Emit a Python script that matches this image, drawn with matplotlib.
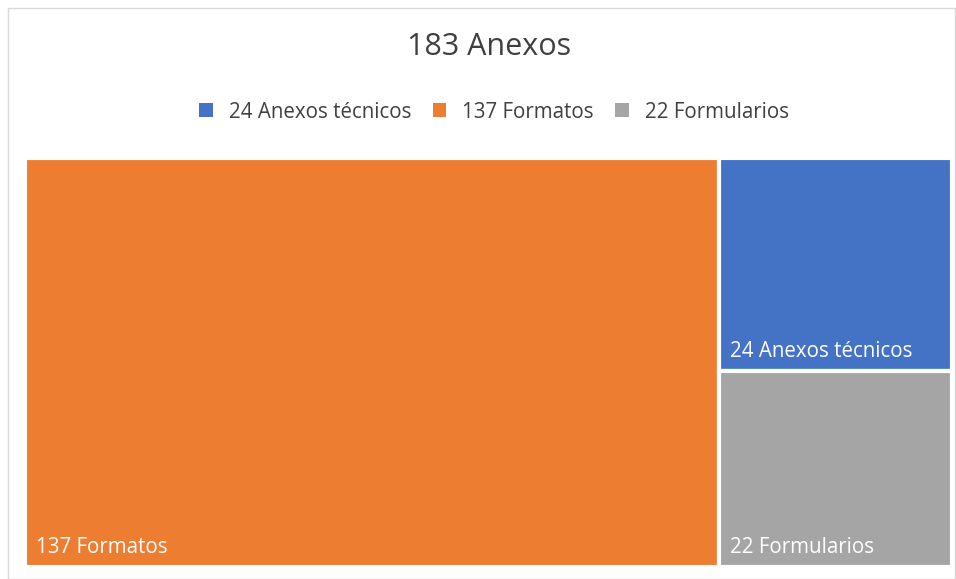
import matplotlib
matplotlib.use("Agg")
import matplotlib.pyplot as plt
from matplotlib.patches import Rectangle, Patch

title = "183 Anexos"
categories = ["Anexos técnicos", "Formatos", "Formularios"]
values = [24, 137, 22]
colors = ["#4472C4", "#ED7D31", "#A5A5A5"]

plt.rcParams['font.family'] = ['Open Sans', 'DejaVu Sans']

fig = plt.figure(figsize=(9.56, 5.79), dpi=100)
fig.patch.set_facecolor("white")
# outer chart frame
fig.patches.append(Rectangle((8/956, 0), 1 - 8/956 - 0.001, 1 - 8/579, transform=fig.transFigure,
                             fill=False, edgecolor="#D9D9D9", linewidth=1))

ax = fig.add_axes([25/956, 12/579, 927/956, 409/579])
total = sum(values)
ax.set_xlim(0, total)
ax.set_ylim(0, 1)
ax.axis("off")

labels = [f"{v} {c}" for v, c in zip(values, categories)]

# layout: largest category as full-height column on the left, others stacked on the right
order = sorted(range(len(values)), key=lambda i: -values[i])
big = order[0]
rest = [i for i in range(len(values)) if i != big]
rects = {}
rects[big] = (0, 0, values[big], 1)
rest_total = sum(values[i] for i in rest)
ytop = 1.0
for i in rest:
    h = values[i] / rest_total
    rects[i] = (values[big], ytop - h, rest_total, h)
    ytop -= h

for i, (x, y, w, h) in rects.items():
    ax.add_patch(Rectangle((x, y), w, h, facecolor=colors[i], edgecolor="white", linewidth=3))
    ax.text(x + total * 0.012, y + 0.022, labels[i], color="white", fontsize=14.8,
            ha="left", va="bottom")

fig.text(489/956, 1 - 47/579, title, ha="center", va="center", fontsize=22, color="#404040")

handles = [Patch(facecolor=c, edgecolor="none") for c in colors]
fig.legend(handles, labels, loc="center", bbox_to_anchor=(494/956, 1 - 112/579), ncol=3,
           frameon=False, fontsize=14.8, handlelength=0.67, handleheight=0.67,
           handletextpad=0.77, columnspacing=1.05, labelcolor="#404040")

fig.savefig("out.png", dpi=100)
